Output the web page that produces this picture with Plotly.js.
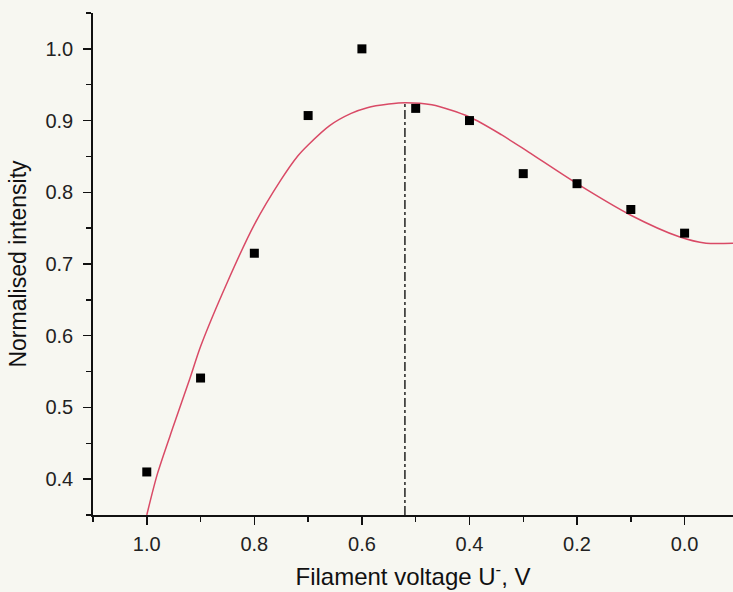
<!DOCTYPE html>
<html>
<head>
<meta charset="utf-8">
<script src="https://cdn.plot.ly/plotly-3.0.1.min.js"></script>
<style>html,body{margin:0;padding:0;background:#f7f7f1;}#chart{width:733px;height:592px;}</style>
</head>
<body>
<div id="chart"></div>
<script>
// Measured data points
var voltage = [1.0, 0.9, 0.8, 0.7, 0.6, 0.5, 0.4, 0.3, 0.2, 0.1, 0.0];
var intensity = [0.41, 0.541, 0.715, 0.907, 1.0, 0.917, 0.900, 0.826, 0.812, 0.776, 0.743];

// Fitted curve
var fitX = [1.0, 0.98, 0.95, 0.92, 0.90, 0.85, 0.80, 0.75, 0.72, 0.70, 0.66, 0.62, 0.59, 0.55, 0.52, 0.47, 0.40, 0.34, 0.29, 0.20, 0.10, 0.01, -0.04, -0.09];
var fitY = [0.350, 0.408, 0.475, 0.540, 0.585, 0.675, 0.755, 0.818, 0.850, 0.866, 0.893, 0.910, 0.918, 0.923, 0.925, 0.922, 0.905, 0.880, 0.856, 0.812, 0.768, 0.738, 0.729, 0.729];

// Vertical marker at the maximum of the fit
var peakX = [0.52, 0.52];
var peakY = [0.35, 0.925];

var xTickVals = [1.0, 0.8, 0.6, 0.4, 0.2, 0.0];
var xTickText = ["1.0", "0.8", "0.6", "0.4", "0.2", "0.0"];
var yTickVals = [0.4, 0.5, 0.6, 0.7, 0.8, 0.9, 1.0];
var yTickText = ["0.4", "0.5", "0.6", "0.7", "0.8", "0.9", "1.0"];

var traces = [
  {x: fitX, y: fitY, mode: 'lines', line: {color: '#d94a66', width: 1.5, shape: 'spline', smoothing: 0.8}, hoverinfo: 'skip'},
  {x: peakX, y: peakY, mode: 'lines', line: {color: '#000', width: 1.3, dash: 'dashdot'}, hoverinfo: 'skip'},
  {x: voltage, y: intensity, mode: 'markers', marker: {symbol: 'square', size: 9, color: '#000'}}
];

var font = {family: 'Liberation Sans, Arial, sans-serif', color: '#111'};

var layout = {
  width: 733, height: 592,
  margin: {l: 93, r: 0, t: 13, b: 77, pad: 0},
  paper_bgcolor: '#f7f7f1', plot_bgcolor: '#f7f7f1',
  showlegend: false,
  font: font,
  xaxis: {
    range: [1.1, -0.09], autorange: false,
    tickmode: 'array', tickvals: xTickVals, ticktext: xTickText,
    ticks: 'outside', ticklen: 8, tickwidth: 1.5, tickcolor: '#111',
    minor: {dtick: 0.1, tick0: 0, ticks: 'outside', ticklen: 5, tickwidth: 1.5, tickcolor: '#111'},
    showline: true, linecolor: '#111', linewidth: 1.8,
    showgrid: false, zeroline: false,
    tickfont: {size: 20, family: font.family, color: '#222'},
    ticklabelstandoff: 2,
    title: {text: 'Filament voltage U<sup>-</sup>, V', font: {size: 24, family: font.family, color: '#111'}, standoff: 14}
  },
  yaxis: {
    range: [0.35, 1.05], autorange: false,
    tickmode: 'array', tickvals: yTickVals, ticktext: yTickText,
    ticks: 'outside', ticklen: 8, tickwidth: 1.5, tickcolor: '#111',
    minor: {dtick: 0.05, tick0: 0, ticks: 'outside', ticklen: 5, tickwidth: 1.5, tickcolor: '#111'},
    showline: true, linecolor: '#111', linewidth: 1.8,
    showgrid: false, zeroline: false,
    tickfont: {size: 20, family: font.family, color: '#222'},
    ticklabelstandoff: 6,
    title: {text: 'Normalised intensity', font: {size: 23, family: font.family, color: '#111'}, standoff: 12}
  }
};

Plotly.newPlot('chart', traces, layout, {displayModeBar: false, staticPlot: true});
</script>
</body>
</html>
